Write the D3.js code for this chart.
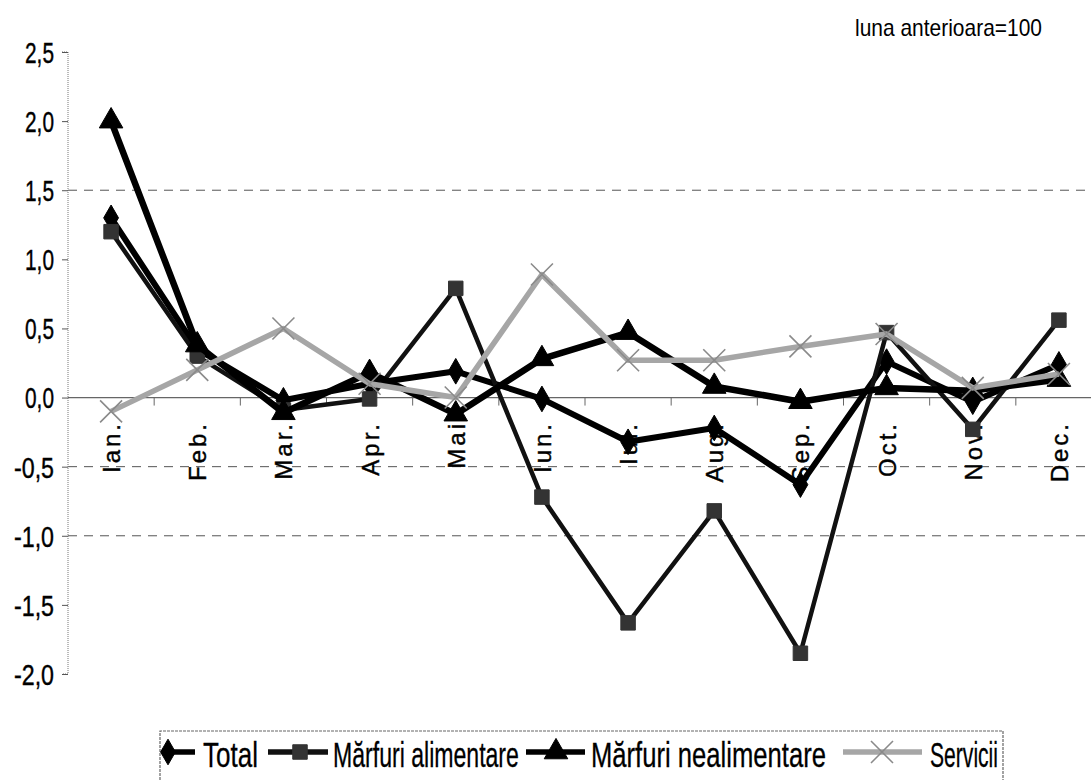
<!DOCTYPE html>
<html><head><meta charset="utf-8">
<script src="https://cdn.jsdelivr.net/npm/d3@7"></script>
<style>
html,body{margin:0;padding:0;background:#fff;}
svg{display:block;}
</style></head>
<body>
<svg id="chart" width="1091" height="780"></svg>
<script>
const months = ["Ian.","Feb.","Mar.","Apr.","Mai","Iun.","Iul.","Aug.","Sep.","Oct.","Nov.","Dec."];
const total       = [1.30, 0.35, -0.02, 0.10, 0.19, -0.01, -0.32, -0.22, -0.63, 0.26, -0.03, 0.24];
const alimentare  = [1.20, 0.30, -0.09, -0.01, 0.79, -0.72, -1.63, -0.82, -1.85, 0.47, -0.23, 0.56];
const nealimentare= [2.00, 0.38, -0.11, 0.18, -0.12, 0.28, 0.47, 0.08, -0.03, 0.07, 0.05, 0.13];
const servicii    = [-0.10, 0.20, 0.50, 0.10, 0.00, 0.89, 0.27, 0.27, 0.37, 0.46, 0.07, 0.17];
const yTicks = [-2.0,-1.5,-1.0,-0.5,0,0.5,1.0,1.5,2.0,2.5];
const gridValues = [1.5,-0.5,-1.0];
const seriesNames = ["Total","Mărfuri alimentare","Mărfuri nealimentare","Servicii"];
const note = "luna anterioara=100";

const svg = d3.select("#chart");
const x = d3.scaleBand().domain(months).range([68, 1102]).paddingInner(0).paddingOuter(0);
const y = d3.scaleLinear().domain([-2, 2.5]).range([674, 52]);
const cx = m => x(m) + x.bandwidth()/2;
const font = "'Liberation Sans',Arial,sans-serif";

// squeeze a text element horizontally to a given width, anchored at (tx,ty)
function squeeze(sel, tx, ty, width, anchor) {
  const node = sel.node();
  const len = node.getComputedTextLength();
  const s = width / len;
  sel.attr("x", 0).attr("y", 0).attr("text-anchor", anchor || "start")
     .attr("transform", `translate(${tx},${ty}) scale(${s},1)`);
}

// gridlines
svg.append("g").selectAll("line").data(gridValues).join("line")
  .attr("x1", 68).attr("x2", 1091).attr("y1", d=>y(d)).attr("y2", d=>y(d))
  .attr("stroke", "#555").attr("stroke-width", 1).attr("stroke-dasharray", "9,7");

// y axis
const fmt = d => d3.format(".1f")(Math.abs(d)).replace(".", ",");
const yAxis = d3.axisLeft(y).tickValues(yTicks).tickSize(6).tickFormat(d => (d < 0 ? "-" : "") + fmt(d));
const gy = svg.append("g").attr("transform", "translate(68,0)").call(yAxis);
gy.select(".domain").attr("stroke", "#777").attr("stroke-dasharray", "1,1").attr("d", "M-6,52H0V674H-6");
gy.selectAll(".tick line").attr("stroke", "#555");
gy.selectAll(".tick text").attr("font-family", font).attr("font-size", 29).attr("fill", "#000")
  .attr("stroke", "#000").attr("stroke-width", 0.4).attr("dy", "0.36em")
  .each(function(d){ squeeze(d3.select(this), -14, 0, d < 0 ? 40 : 29, "end"); });

// x axis at zero
const gx = svg.append("g").attr("transform", `translate(0,${y(0)})`);
gx.append("line").attr("x1", 68).attr("x2", 1091).attr("stroke", "#666").attr("stroke-width", 1.2);
gx.selectAll("line.tk").data(d3.range(1, 12)).join("line").attr("class","tk")
  .attr("x1", i => x(months[i])).attr("x2", i => x(months[i])).attr("y1", 0).attr("y2", 8)
  .attr("stroke", "#666");

// x labels
svg.append("g").selectAll("text").data(months).join("text")
  .attr("transform", m => `translate(${cx(m)+9},421) rotate(-90)`)
  .attr("text-anchor", "end")
  .attr("font-family", font).attr("font-size", 24)
  .attr("letter-spacing", 3)
  .attr("fill", "#000").attr("stroke", "#000").attr("stroke-width", 0.4)
  .text(m => m);

// lines
const line = d3.line().x((d,i)=>cx(months[i])).y(d=>y(d));
const styles = [
  {data: total, stroke: "#000", width: 6},
  {data: alimentare, stroke: "#111", width: 4.5},
  {data: nealimentare, stroke: "#000", width: 6.5},
  {data: servicii, stroke: "#a6a6a6", width: 5.5}
];
const sym = {
  diamond: d3.symbol().type(d3.symbolDiamond).size(190),
  square: d3.symbol().type(d3.symbolSquare).size(210),
  triangle: d3.symbol().type(d3.symbolTriangle).size(240)
};
function drawMarker(g, kind, px, py) {
  if (kind === "x") {
    const s = 11;
    g.append("path").attr("d", `M${px-s},${py-s}L${px+s},${py+s}M${px-s},${py+s}L${px+s},${py-s}`)
      .attr("stroke", "#8a8a8a").attr("stroke-width", 1.6).attr("fill", "none");
  } else {
    const fill = kind === "square" ? "#333" : "#000";
    g.append("path").attr("d", sym[kind]()).attr("transform", `translate(${px},${py})`)
      .attr("fill", fill).attr("stroke", fill).attr("stroke-width", 1);
  }
}
const kinds = ["diamond","square","triangle","x"];
styles.forEach((s, k) => {
  const g = svg.append("g");
  g.append("path").datum(s.data).attr("d", line).attr("fill", "none")
    .attr("stroke", s.stroke).attr("stroke-width", s.width).attr("stroke-linejoin", "round");
  s.data.forEach((v, i) => drawMarker(g, kinds[k], cx(months[i]), y(v)));
});

// note
const nt = svg.append("text").attr("font-family", font).attr("font-size", 23).text(note);
squeeze(nt, 855, 36, 187);

// legend
const lg = svg.append("g");
lg.append("path").attr("d", "M160,780V731H1003V780").attr("fill", "none")
  .attr("stroke", "#666").attr("stroke-width", 1.2).attr("stroke-dasharray", "3,1");
const legendItems = [
  {l1: 150, l2: 195, mk: 168, tx: 203, tw: 55},
  {l1: 268, l2: 328, mk: 300, tx: 333, tw: 186},
  {l1: 526, l2: 585, mk: 556, tx: 591, tw: 235},
  {l1: 843, l2: 922, mk: 882, tx: 930, tw: 68}
];
legendItems.forEach((it, k) => {
  const ly = 752;
  lg.append("line").attr("x1", Math.max(it.l1,162)).attr("x2", it.l2).attr("y1", ly).attr("y2", ly)
    .attr("stroke", styles[k].stroke).attr("stroke-width", 5.5);
  drawMarker(lg, kinds[k], it.mk, ly);
  const t = lg.append("text").attr("font-family", font).attr("font-size", 36)
    .attr("stroke", "#000").attr("stroke-width", 0.3).text(seriesNames[k]);
  squeeze(t, it.tx, 767, it.tw);
});
</script>
</body></html>
